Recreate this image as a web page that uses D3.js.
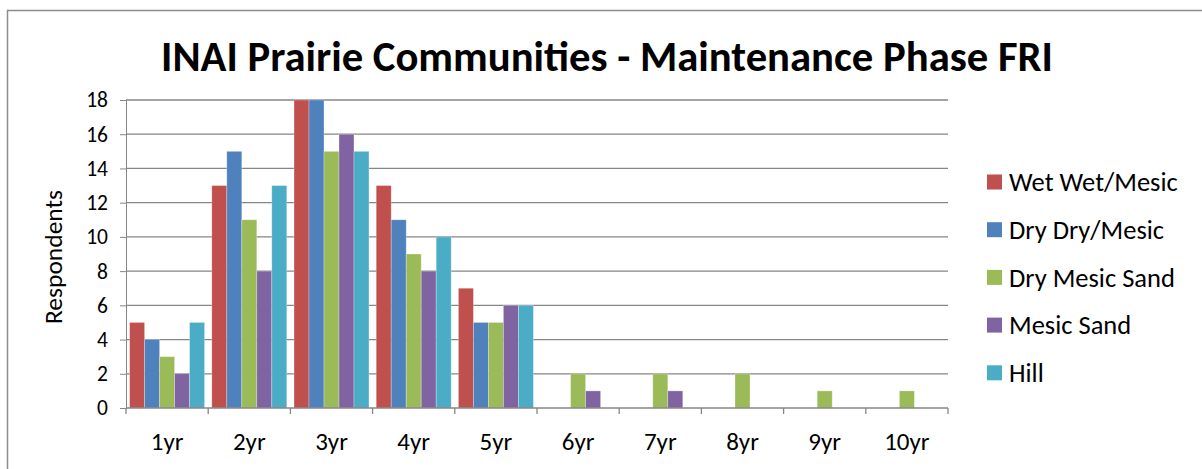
<!DOCTYPE html>
<html>
<head>
<meta charset="utf-8">
<script src="https://cdn.jsdelivr.net/npm/d3@7"></script>
<style>
  body { margin: 0; background: #fff; }
  svg text { font-family: Carlito, Calibri, Lato, sans-serif; fill: #000; }
</style>
</head>
<body>
<div id="chart"></div>
<script>
const categories = ["1yr", "2yr", "3yr", "4yr", "5yr", "6yr", "7yr", "8yr", "9yr", "10yr"];
const seriesNames = ["Wet Wet/Mesic", "Dry Dry/Mesic", "Dry Mesic Sand", "Mesic Sand", "Hill"];
const wetWetMesic = [5, 13, 18, 13, 7, 0, 0, 0, 0, 0];
const dryDryMesic = [4, 15, 18, 11, 5, 0, 0, 0, 0, 0];
const dryMesicSand = [3, 11, 15, 9, 5, 2, 2, 2, 1, 1];
const mesicSand = [2, 8, 16, 8, 6, 1, 1, 0, 0, 0];
const hill = [5, 13, 15, 10, 6, 0, 0, 0, 0, 0];
const yTicks = [0, 2, 4, 6, 8, 10, 12, 14, 16, 18];
const colors = ["#C0504D", "#4F81BD", "#9BBB59", "#8064A2", "#4BACC6"];

const seriesValues = [wetWetMesic, dryDryMesic, dryMesicSand, mesicSand, hill];

const W = 1202, H = 469;
const margin = { top: 100, left: 126, right: 254, bottom: 61 };
const width = W - margin.left - margin.right;   // plot width
const height = H - margin.top - margin.bottom;  // plot height

const svg = d3.select("#chart").append("svg")
  .attr("width", W)
  .attr("height", H);

// outer chart border (runs off the right/bottom of the picture)
svg.append("rect")
  .attr("x", 7.5).attr("y", 10.5)
  .attr("width", W + 20).attr("height", H + 20)
  .attr("fill", "none")
  .attr("stroke", "#8c8c8c")
  .attr("stroke-width", 1.5);

svg.append("text")
  .attr("x", 607).attr("y", 71)
  .attr("text-anchor", "middle")
  .style("font-weight", "bold")
  .style("font-size", "42.7px")
  .text("INAI Prairie Communities - Maintenance Phase FRI");

const g = svg.append("g")
  .attr("transform", "translate(" + margin.left + "," + margin.top + ")");

const x0 = d3.scaleBand().domain(categories).range([0, width]).padding(0);
const gap = x0.bandwidth() * 0.044;
const x1 = d3.scaleBand().domain(seriesNames)
  .range([gap, x0.bandwidth() - gap]).padding(0);
const y = d3.scaleLinear().domain([0, 18]).range([height, 0]);

// gridlines + y axis
const yAxis = d3.axisLeft(y).tickValues(yTicks).tickSize(6).tickPadding(12);
const yg = g.append("g").call(yAxis);
yg.select(".domain").attr("stroke", "#868686");
yg.selectAll(".tick line").attr("stroke", "#868686");
yg.selectAll(".tick text").style("font-size", "21.5px");

g.append("g").selectAll("line")
  .data(yTicks.filter(d => d > 0))
  .join("line")
  .attr("x1", 0).attr("x2", width)
  .attr("y1", d => y(d)).attr("y2", d => y(d))
  .attr("stroke", "#868686")
  .attr("stroke-width", 1.3);

// bars
const rows = categories.map((c, i) => ({ cat: c, vals: seriesNames.map((s, j) => ({ s: s, j: j, v: seriesValues[j][i] })) }));
const grp = g.append("g").selectAll("g")
  .data(rows)
  .join("g")
  .attr("transform", d => "translate(" + x0(d.cat) + ",0)");
grp.selectAll("rect")
  .data(d => d.vals.filter(e => e.v > 0))
  .join("rect")
  .attr("x", d => x1(d.s))
  .attr("y", d => y(d.v))
  .attr("width", x1.bandwidth())
  .attr("height", d => height - y(d.v))
  .attr("fill", d => colors[d.j])
  .attr("stroke", "rgba(255,255,255,0.35)")
  .attr("stroke-width", 0.8);

// x axis, ticks on category boundaries
const xg = g.append("g").attr("transform", "translate(0," + height + ")");
xg.append("line")
  .attr("x1", 0).attr("x2", width)
  .attr("stroke", "#868686").attr("stroke-width", 1.3);
xg.selectAll("line.tk")
  .data(d3.range(categories.length + 1))
  .join("line")
  .attr("class", "tk")
  .attr("x1", i => i * x0.step()).attr("x2", i => i * x0.step())
  .attr("y1", 0).attr("y2", 6)
  .attr("stroke", "#868686").attr("stroke-width", 1.3);
xg.selectAll("text")
  .data(categories)
  .join("text")
  .attr("x", d => x0(d) + x0.bandwidth() / 2)
  .attr("y", 42)
  .attr("text-anchor", "middle")
  .style("font-size", "25px")
  .text(d => d);

// y axis title
svg.append("text")
  .attr("transform", "translate(62,257) rotate(-90)")
  .attr("text-anchor", "middle")
  .style("font-size", "25.5px")
  .text("Respondents");

// legend
const legend = svg.append("g").attr("transform", "translate(987,182)");
const li = legend.selectAll("g")
  .data(seriesNames)
  .join("g")
  .attr("transform", (d, i) => "translate(0," + i * 47.7 + ")");
li.append("rect")
  .attr("x", 0).attr("y", -7.5)
  .attr("width", 15).attr("height", 15)
  .attr("fill", (d, i) => colors[i]);
li.append("text")
  .attr("x", 22).attr("y", 0)
  .attr("dy", "0.35em")
  .style("font-size", "26.5px")
  .text(d => d);
</script>
</body>
</html>
